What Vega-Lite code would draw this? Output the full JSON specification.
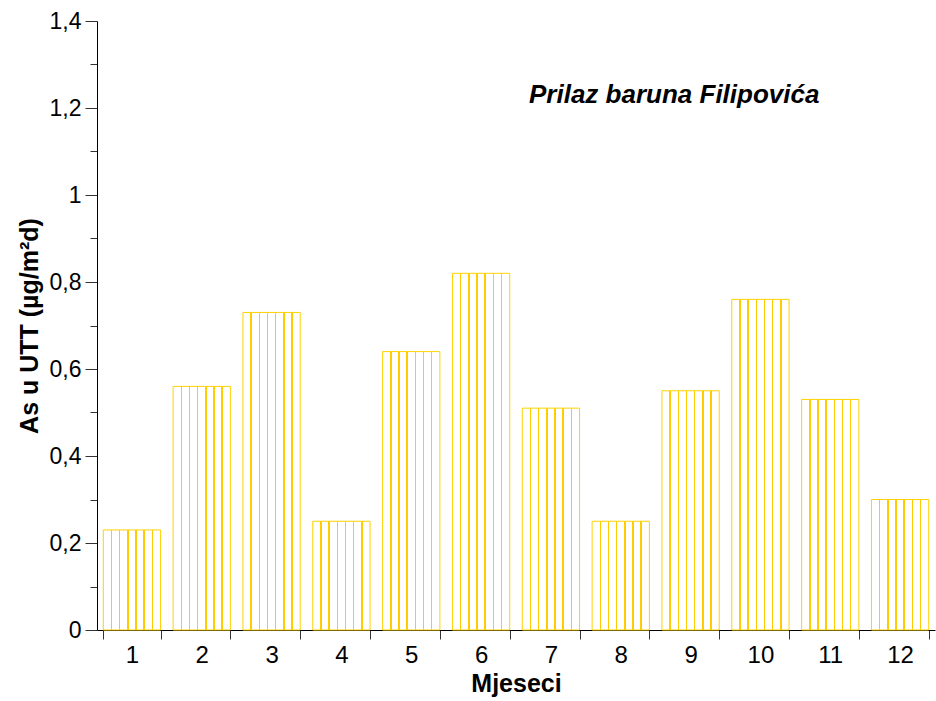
{
  "$schema": "https://vega.github.io/schema/vega-lite/v6.json",
  "width": 838,
  "height": 609,
  "autosize": "none",
  "padding": {"left": 97, "top": 21, "right": 1, "bottom": 71},
  "background": "white",
  "config": {"view": {"stroke": null}, "font": "Liberation Sans"},
  "title": {
    "text": "Prilaz baruna Filipovića",
    "anchor": "start",
    "frame": "group",
    "orient": "top",
    "offset": 0,
    "baseline": "alphabetic",
    "dx": 432,
    "dy": 119,
    "font": "Liberation Sans",
    "fontSize": 26,
    "fontStyle": "italic",
    "fontWeight": "bold",
    "color": "black"
  },
  "data": {
    "values": [
      {"m": "1", "v": 0.23},
      {"m": "2", "v": 0.56},
      {"m": "3", "v": 0.73},
      {"m": "4", "v": 0.25},
      {"m": "5", "v": 0.64},
      {"m": "6", "v": 0.82},
      {"m": "7", "v": 0.51},
      {"m": "8", "v": 0.25},
      {"m": "9", "v": 0.55},
      {"m": "10", "v": 0.76},
      {"m": "11", "v": 0.53},
      {"m": "12", "v": 0.30}
    ]
  },
  "mark": {
    "type": "bar",
    "stroke": "#FFD200",
    "strokeWidth": 1,
    "fill": {
      "gradient": "linear",
      "x1": 0, "y1": 0, "x2": 1, "y2": 0,
      "stops": [
        {"offset": 0, "color": "white"},
        {"offset": 0.130, "color": "white"},
        {"offset": 0.130, "color": "#FFCC00"},
        {"offset": 0.156, "color": "#FFCC00"},
        {"offset": 0.156, "color": "white"},
        {"offset": 0.273, "color": "white"},
        {"offset": 0.273, "color": "#FFCC00"},
        {"offset": 0.299, "color": "#FFCC00"},
        {"offset": 0.299, "color": "white"},
        {"offset": 0.416, "color": "white"},
        {"offset": 0.416, "color": "#FFCC00"},
        {"offset": 0.442, "color": "#FFCC00"},
        {"offset": 0.442, "color": "white"},
        {"offset": 0.558, "color": "white"},
        {"offset": 0.558, "color": "#FFCC00"},
        {"offset": 0.584, "color": "#FFCC00"},
        {"offset": 0.584, "color": "white"},
        {"offset": 0.701, "color": "white"},
        {"offset": 0.701, "color": "#FFCC00"},
        {"offset": 0.727, "color": "#FFCC00"},
        {"offset": 0.727, "color": "white"},
        {"offset": 0.844, "color": "white"},
        {"offset": 0.844, "color": "#FFCC00"},
        {"offset": 0.870, "color": "#FFCC00"},
        {"offset": 0.870, "color": "white"},
        {"offset": 1, "color": "white"}
      ]
    }
  },
  "encoding": {
    "x": {
      "field": "m",
      "type": "ordinal",
      "sort": null,
      "scale": {"paddingInner": 0.18, "paddingOuter": 0.09},
      "axis": {
        "title": "Mjeseci",
        "titleFont": "Liberation Sans",
        "titleFontSize": 25,
        "titleFontWeight": "bold",
        "titleColor": "black",
        "titlePadding": 4,
        "labelAngle": 0,
        "labelFont": "Liberation Sans",
        "labelFontSize": 24,
        "labelColor": "black",
        "labelPadding": 4,
        "tickBand": "extent",
        "tickSize": 9,
        "tickColor": "#333",
        "domainColor": "black",
        "domainWidth": 1
      }
    },
    "y": {
      "field": "v",
      "type": "quantitative",
      "scale": {"domain": [0, 1.4], "nice": false},
      "axis": {
        "title": "As u UTT (µg/m²d)",
        "titleFont": "Liberation Sans",
        "titleFontSize": 25,
        "titleFontWeight": "bold",
        "titleColor": "black",
        "titlePadding": 7,
        "values": [0, 0.1, 0.2, 0.3, 0.4, 0.5, 0.6, 0.7, 0.8, 0.9, 1, 1.1, 1.2, 1.3, 1.4],
        "labelExpr": "abs(datum.value*5 - round(datum.value*5)) < 0.01 ? replace(toString(round(datum.value*10)/10), '.', ',') : ''",
        "labelFont": "Liberation Sans",
        "labelFontSize": 23,
        "labelColor": "black",
        "labelPadding": 4,
        "tickSize": {"condition": {"test": "abs(datum.value*5 - round(datum.value*5)) < 0.01", "value": 12}, "value": 7},
        "tickColor": "#333",
        "domainColor": "black",
        "grid": false
      }
    }
  }
}
